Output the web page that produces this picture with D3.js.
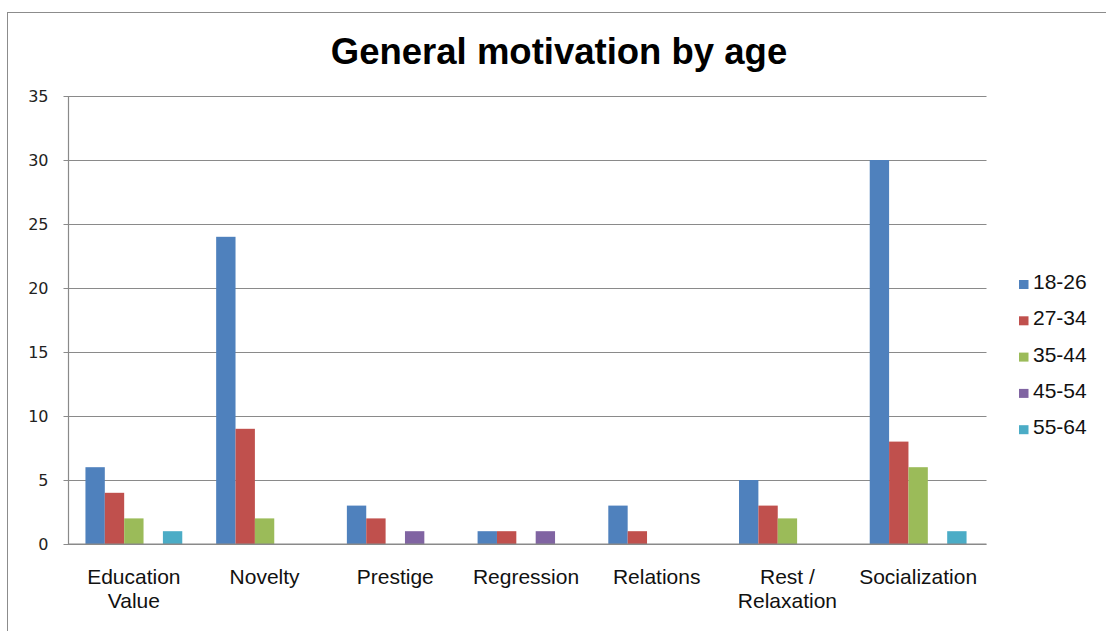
<!DOCTYPE html>
<html>
<head>
<meta charset="utf-8">
<script src="https://cdn.jsdelivr.net/npm/d3@7/dist/d3.min.js"></script>
<style>
  html, body { margin: 0; padding: 0; background: #fff; }
  svg { display: block; }
</style>
</head>
<body>
<svg id="chart" width="1106" height="631"></svg>
<script>
// Survey answers: general motivation, split by age group
const categories = ["Education Value", "Novelty", "Prestige", "Regression", "Relations", "Rest / Relaxation", "Socialization"];
const categoryLines = [["Education", "Value"], ["Novelty"], ["Prestige"], ["Regression"], ["Relations"], ["Rest /", "Relaxation"], ["Socialization"]];
const ageGroups = ["18-26", "27-34", "35-44", "45-54", "55-64"];
const values18_26 = [6, 24, 3, 1, 3, 5, 30];
const values27_34 = [4, 9, 2, 1, 1, 3, 8];
const values35_44 = [2, 2, 0, 0, 0, 2, 6];
const values45_54 = [0, 0, 1, 1, 0, 0, 0];
const values55_64 = [1, 0, 0, 0, 0, 0, 1];
const yTicks = [0, 5, 10, 15, 20, 25, 30, 35];
const colors = ["#4F81BD", "#C0504D", "#9BBB59", "#8064A2", "#4BACC6"];

const seriesValues = [values18_26, values27_34, values35_44, values45_54, values55_64];
const rows = categories.map((c, i) => ({
  category: c,
  bars: ageGroups.map((g, j) => ({ group: g, value: seriesValues[j][i] }))
}));

const svg = d3.select("#chart");
const plotLeft = 68.5, plotRight = 983.5, plotTop = 96, plotBottom = 544;

// outer frame
svg.append("rect")
  .attr("x", 7.5).attr("y", 12.5)
  .attr("width", 1110).attr("height", 640)
  .attr("fill", "#fff").attr("stroke", "#8c8c8c").attr("stroke-width", 1);

const x0 = d3.scaleBand().domain(categories).range([plotLeft, plotRight]).padding(0);
const x1 = d3.scaleBand().domain(ageGroups).range([0, x0.bandwidth()])
  .paddingInner(0).paddingOuter(0.875);
const y = d3.scaleLinear().domain([0, 35]).range([plotBottom, plotTop]);
const color = d3.scaleOrdinal().domain(ageGroups).range(colors);

// title
svg.append("text")
  .attr("x", 559).attr("y", 63.5)
  .attr("text-anchor", "middle")
  .attr("font-family", "Liberation Sans, Arial, sans-serif")
  .attr("font-weight", "bold")
  .attr("font-size", 36.5)
  .attr("fill", "#000")
  .text("General motivation by age");

// y axis with gridlines
const yAxis = d3.axisLeft(y).tickValues(yTicks)
  .tickSize(-(plotRight - plotLeft + 3)).tickSizeOuter(0).tickPadding(20);
const gy = svg.append("g").attr("transform", `translate(${plotLeft},0)`).call(yAxis);
gy.select(".domain").remove();
gy.selectAll(".tick line")
  .attr("x1", -5)
  .attr("stroke", "#8a8a8a").attr("stroke-width", 1.2);
gy.selectAll(".tick text")
  .attr("font-family", "DejaVu Sans, Verdana, sans-serif")
  .attr("font-size", 16)
  .attr("fill", "#222");

// vertical axis line
svg.append("line")
  .attr("x1", plotLeft).attr("x2", plotLeft)
  .attr("y1", plotTop).attr("y2", plotBottom + 0.5)
  .attr("stroke", "#8a8a8a").attr("stroke-width", 1.2);

// bars
const groups = svg.append("g").selectAll("g")
  .data(rows).join("g")
  .attr("transform", d => `translate(${x0(d.category)},0)`);
groups.selectAll("rect")
  .data(d => d.bars.filter(b => b.value > 0))
  .join("rect")
  .attr("x", b => x1(b.group))
  .attr("width", x1.bandwidth())
  .attr("y", b => y(b.value))
  .attr("height", b => y(0) - y(b.value))
  .attr("fill", b => color(b.group));

// baseline
svg.append("line")
  .attr("x1", plotLeft).attr("x2", plotRight + 3)
  .attr("y1", y(0)).attr("y2", y(0))
  .attr("stroke", "#8a8a8a").attr("stroke-width", 1.2);

// category labels
const xl = svg.append("g");
categories.forEach((c, i) => {
  const cx = x0(c) + x0.bandwidth() / 2;
  const t = xl.append("text")
    .attr("x", cx)
    .attr("y", 584)
    .attr("text-anchor", "middle")
    .attr("font-family", "Liberation Sans, Arial, sans-serif")
    .attr("font-size", 21)
    .attr("fill", "#111");
  categoryLines[i].forEach((line, k) => {
    t.append("tspan")
      .attr("x", cx)
      .attr("dy", k === 0 ? 0 : 23.5)
      .text(line);
  });
});

// legend
const legend = svg.append("g").attr("transform", "translate(1019,280)");
const items = legend.selectAll("g").data(ageGroups).join("g")
  .attr("transform", (d, i) => `translate(0,${i * 36.3})`);
items.append("rect")
  .attr("x", 0).attr("y", 0).attr("width", 9.5).attr("height", 9)
  .attr("fill", d => color(d));
items.append("text")
  .attr("x", 14).attr("y", 9)
  .attr("font-family", "Liberation Sans, Arial, sans-serif")
  .attr("font-size", 21)
  .attr("fill", "#111")
  .text(d => d);
</script>
</body>
</html>
